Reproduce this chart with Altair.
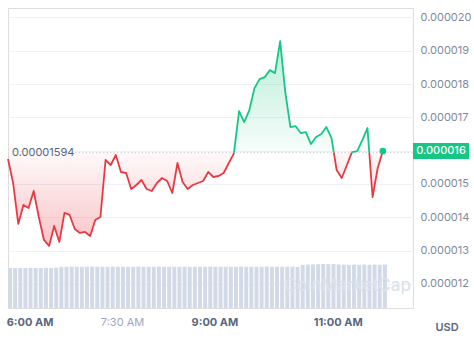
import altair as alt
import pandas as pd

# ---- data ----
times = ["05:39", "05:44", "05:49", "05:54", "05:59",
         "06:04", "06:09", "06:14", "06:19", "06:24", "06:29", "06:34", "06:39", "06:44", "06:49", "06:54", "06:59",
         "07:04", "07:09", "07:14", "07:19", "07:24", "07:29", "07:34", "07:39", "07:44", "07:49", "07:54", "07:59",
         "08:04", "08:09", "08:14", "08:19", "08:24", "08:29", "08:34", "08:39", "08:44", "08:49", "08:54", "08:59",
         "09:04", "09:09", "09:14", "09:19", "09:24", "09:29", "09:34", "09:39", "09:44", "09:49", "09:54", "09:59",
         "10:04", "10:09", "10:14", "10:19", "10:24", "10:29", "10:34", "10:39", "10:44", "10:49", "10:54", "10:59",
         "11:04", "11:09", "11:14", "11:19", "11:24", "11:29", "11:34", "11:39", "11:44"]

prices = [0.00001575, 0.00001503, 0.00001380, 0.00001437, 0.00001428, 0.00001479, 0.00001401, 0.00001332, 0.00001314, 0.00001374,
          0.00001326, 0.00001413, 0.00001407, 0.00001365, 0.00001353, 0.00001356, 0.00001344, 0.00001392, 0.00001401, 0.00001572,
          0.00001557, 0.00001587, 0.00001536, 0.00001533, 0.00001485, 0.00001497, 0.00001512, 0.00001485, 0.00001479, 0.00001503,
          0.00001518, 0.00001509, 0.00001473, 0.00001563, 0.00001506, 0.00001485, 0.00001497, 0.00001503, 0.00001509, 0.00001536,
          0.00001521, 0.00001524, 0.00001533, 0.00001563, 0.00001592, 0.00001719, 0.00001686, 0.00001722, 0.00001788, 0.00001815,
          0.00001821, 0.00001842, 0.00001833, 0.00001929, 0.00001776, 0.00001671, 0.00001674, 0.00001653, 0.00001656, 0.00001620,
          0.00001641, 0.00001650, 0.00001671, 0.00001638, 0.00001542, 0.00001518, 0.00001557, 0.00001596, 0.00001599, 0.00001632,
          0.00001668, 0.00001461, 0.00001548, 0.00001599]

volumes = [10.0, 10.0, 10.0, 10.0, 10.05, 10.0, 10.0, 10.05, 10.0, 10.1,
           10.3, 10.3, 10.35, 10.3, 10.3, 10.3, 10.35, 10.3, 10.3, 10.3,
           10.35, 10.3, 10.3, 10.3, 10.3, 10.35, 10.3, 10.3, 10.3, 10.35,
           10.3, 10.3, 10.3, 10.3, 10.35, 10.3, 10.3, 10.3, 10.3, 10.35,
           10.3, 10.3, 10.3, 10.3, 10.3, 10.35, 10.3, 10.3, 10.3, 10.3,
           10.35, 10.3, 10.3, 10.3, 10.3, 10.35, 10.3, 10.8, 10.85, 10.9,
           10.95, 11.0, 10.95, 11.0, 10.9, 10.85, 10.8, 10.85, 10.8, 10.85,
           10.8, 10.85, 10.8, 10.85]

baseline = 0.00001594
y_ticks = [0.000012, 0.000013, 0.000014, 0.000015, 0.000016, 0.000017, 0.000018, 0.000019, 0.000020]
x_ticks = ["06:00", "07:30", "09:00", "11:00"]

GREEN = "#16c784"
RED = "#ea3943"
W, H = 405, 300


def to_min(s):
    h, m = s.split(":")
    return int(h) * 60 + int(m)


t = [to_min(s) for s in times]
x_tick_vals = [to_min(s) for s in x_ticks]

# ---- split line into above / below baseline parts (colour change at crossing) ----
pts = []  # (t, price, is_crossing)
for i in range(len(t)):
    pts.append((t[i], prices[i], False))
    if i < len(t) - 1:
        a, b = prices[i] - baseline, prices[i + 1] - baseline
        if a * b < 0:
            f = a / (a - b)
            pts.append((t[i] + f * (t[i + 1] - t[i]), baseline, True))

line_rows = []
seg = 0
side = "up" if prices[0] >= baseline else "down"
for (tt, pp, cross) in pts:
    line_rows.append({"t": tt, "p": pp, "seg": seg, "side": side})
    if cross:
        seg += 1
        side = "down" if side == "up" else "up"
        line_rows.append({"t": tt, "p": pp, "seg": seg, "side": side})
line_df = pd.DataFrame(line_rows)

area_df = pd.DataFrame({
    "t": [p[0] for p in pts],
    "up": [max(p[1], baseline) for p in pts],
    "dn": [min(p[1], baseline) for p in pts],
    "base": [baseline] * len(pts),
})

vol_df = pd.DataFrame({"t": t, "t2": [v + 3.9 for v in t], "v": volumes, "v0": [0.0] * len(t)})
last_df = pd.DataFrame({"t": [t[-1]], "p": [prices[-1]]})

xscale = alt.Scale(domain=[t[0], t[0] + W / 1.027], nice=False, zero=False)
yscale = alt.Scale(domain=[0.000011276, 0.000020285], nice=False, zero=False)

x_axis = alt.Axis(
    values=x_tick_vals,
    labelExpr="floor(datum.value/60) + ':' + (datum.value % 60 < 10 ? '0' : '') + (datum.value % 60) + ' AM'",
    domain=False, ticks=False, grid=False, title=None,
    labelPadding=8, labelFontSize=11, labelFont="Inter",
    labelColor=alt.expr("datum.value % 60 == 0 ? '#58667e' : '#a1a7bb'"),
    labelFontWeight=alt.expr("datum.value % 60 == 0 ? 'bold' : 'normal'"),
)


def X(field="t"):
    return alt.X(f"{field}:Q", scale=xscale, axis=x_axis)


vol = alt.Chart(vol_df).mark_rect(color="#d3dae7").encode(
    x=X(), x2="t2:Q",
    y=alt.Y("v:Q", scale=alt.Scale(domain=[0, 75], nice=False), axis=None),
    y2="v0:Q",
)

green_area = alt.Chart(area_df).mark_area(
    color=alt.Gradient(gradient="linear",
                       stops=[alt.GradientStop(color="rgba(22,199,132,0.30)", offset=0),
                              alt.GradientStop(color="rgba(22,199,132,0.03)", offset=1)],
                       x1=0, x2=0, y1=0, y2=1)
).encode(x=X(), y=alt.Y("up:Q", scale=yscale, axis=None), y2="base:Q")

red_area = alt.Chart(area_df).mark_area(
    color=alt.Gradient(gradient="linear",
                       stops=[alt.GradientStop(color="rgba(234,57,67,0.03)", offset=0),
                              alt.GradientStop(color="rgba(234,57,67,0.30)", offset=1)],
                       x1=0, x2=0, y1=0, y2=1)
).encode(x=X(), y=alt.Y("dn:Q", scale=yscale, axis=None), y2="base:Q")

base_rule = alt.Chart(last_df).mark_rule(color="#cdd1d9", strokeDash=[1.5, 2], strokeWidth=1).encode(
    x=alt.value(60), x2=alt.value(W),
    y=alt.Y(datum=baseline, type="quantitative", scale=yscale, axis=None),
)

base_label = alt.Chart(last_df).mark_text(
    align="left", baseline="middle", font="Inter", fontSize=11, color="#58667e"
).encode(
    x=alt.value(4),
    y=alt.Y(datum=baseline, type="quantitative", scale=yscale, axis=None),
    text=alt.value(f"{baseline:.8f}"),
)

line = alt.Chart(line_df).mark_line(strokeWidth=1.8, strokeJoin="round").encode(
    x=X(),
    y=alt.Y("p:Q", scale=yscale,
            axis=alt.Axis(orient="right", values=y_ticks,
                          labelExpr="abs(datum.value - 0.000016) < 1e-9 ? '' : format(datum.value, '.6f')",
                          domain=False, ticks=False, grid=True, gridColor="#eff1f5", title=None,
                          labelPadding=7, labelFontSize=11, labelFont="Inter", labelColor="#808a9d")),
    color=alt.Color("side:N", scale=alt.Scale(domain=["up", "down"], range=[GREEN, RED]), legend=None),
    detail="seg:N",
    order="t:Q",
)

dot = alt.Chart(last_df).mark_circle(color=GREEN, opacity=1, size=45).encode(
    x=X(), y=alt.Y("p:Q", scale=yscale, axis=None),
)

price_box = alt.Chart(last_df).mark_point(
    shape="M-1,-0.2857L1,-0.2857L1,0.2857L-1,0.2857Z", filled=True, fill=GREEN, opacity=1,
    strokeWidth=0, size=56 * 56,
).encode(x=alt.value(433), y=alt.Y("p:Q", scale=yscale, axis=None))

price_text = alt.Chart(last_df).mark_text(
    align="center", baseline="middle", font="Inter", fontSize=11, fontWeight=500, color="white"
).encode(
    x=alt.value(433), y=alt.Y("p:Q", scale=yscale, axis=None),
    text=alt.Text("p:Q", format=".6f"),
)

usd = alt.Chart(last_df).mark_text(
    align="center", baseline="middle", font="Inter", fontSize=11, fontWeight=600, color="#58667e"
).encode(x=alt.value(439), y=alt.value(320), text=alt.value("USD"))

watermark = alt.Chart(last_df).mark_text(
    align="right", baseline="middle", font="Inter", fontSize=17, fontWeight=500, color="#dde2ea"
).encode(x=alt.value(403), y=alt.value(278), text=alt.value("CoinMarketCap"))

chart = alt.layer(
    vol, watermark, green_area, red_area, base_rule, base_label, line, dot, price_box, price_text, usd
).resolve_scale(y="independent").properties(
    width=W, height=H,
    padding={"left": 8, "top": 8, "right": 61, "bottom": 33},
    autosize=alt.AutoSizeParams(type="none"),
).configure_view(stroke="#eceff3", strokeWidth=1).configure(font="Inter", background="white")

chart.save("out.html", embed_options={"renderer": "svg", "actions": False})
